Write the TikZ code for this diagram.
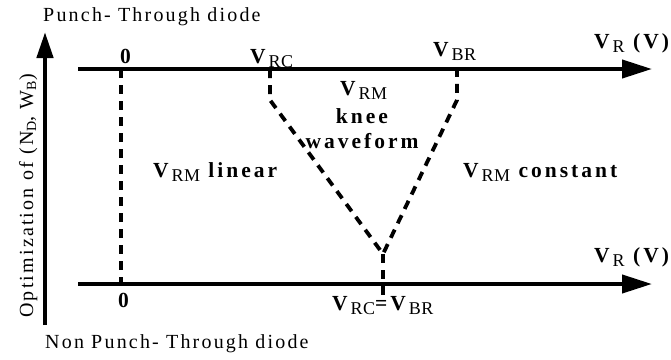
\documentclass[tikz,border=0pt]{standalone}
\usepackage{fontspec}
\setmainfont{Liberation Serif}
\usepackage{tikz}
\usetikzlibrary{arrows.meta, positioning, calc}

% V with a plain lowered subscript
\newcommand{\Vsub}[1]{\textbf{V}\raisebox{-4.5pt}{\fontsize{18}{18}\selectfont\mdseries\addfontfeature{LetterSpace=2}#1}}
\newcommand{\lsub}[1]{\raisebox{-3pt}{\fontsize{14}{14}\selectfont #1}}

\begin{document}
\begin{tikzpicture}[
    x=1pt, y=-1pt,
    axis/.style    = {line width=4pt, -{Triangle[length=30pt,width=18pt]}},
    yaxis/.style   = {line width=4.5pt, -{Triangle[length=26pt,width=16pt]}},
    guide/.style   = {line width=3.8pt, dash pattern=on 9pt off 7pt},
    lbl/.style     = {inner sep=0pt, anchor=base west,
                      font=\fontsize{21.5}{23}\selectfont\bfseries\addfontfeature{LetterSpace=14}},
    note/.style    = {inner sep=0pt, anchor=base west,
                      font=\fontsize{20}{22}\selectfont\addfontfeature{LetterSpace=11}}
]
\useasboundingbox (0,0) rectangle (671,359);

% Axes
\coordinate (yBot) at (45,325);
\coordinate (yTop) at (45,32);
\coordinate (topL) at (78,69);
\coordinate (topR) at (652,69);
\coordinate (botL) at (78,284);
\coordinate (botR) at (652,284);

\draw[yaxis] (yBot) -- (yTop);
\draw[axis] (topL) -- (topR);
\draw[axis] (botL) -- (botR);

% Guide lines (zero, knee)
\coordinate (zeroT) at (121,69);
\coordinate (zeroB) at (121,286);
\coordinate (rcT)   at (270,69);
\coordinate (rcK)   at (270,100);
\coordinate (brT)   at (457,69);
\coordinate (brK)   at (457,100);
\coordinate (apex)  at (383,254);
\coordinate (apexB) at (383,295);

\draw[guide] (zeroT) -- (zeroB);
\draw[guide] (rcT) -- (rcK) -- (apex) -- (brK) -- (brT);
\draw[guide] (apex) -- (apexB);

% Tick labels
\node[lbl] (z1)   at (120,63)  {0};
\node[lbl] (vrc)  at (250,63)  {\Vsub{RC}};
\node[lbl] (vbr)  at (433,56)  {\Vsub{BR}};
\node[lbl] (vr1)  at (594,48)  {\Vsub{R} (V)};
\node[lbl] (vr2)  at (594,262) {\Vsub{R} (V)};
\node[lbl] (z2)   at (118,307) {0};
\node[lbl] (veq)  at (332,310) {\Vsub{RC}=\Vsub{BR}};

% Regions
\node[lbl] (lin)  at (153,177) {\Vsub{RM} linear};
\node[lbl] (kn1)  at (340,95)  {\Vsub{RM}};
\node[lbl, anchor=base] (kn2) at (362,123) {knee};
\node[lbl, anchor=base] (kn3) at (362,148) {waveform};
\node[lbl] (cst)  at (463,177) {\Vsub{RM} constant};

% Diode types and optimisation axis
\node[note] (pt)  at (43,21)  {Punch- Through diode};
\node[note] (npt) at (45,348) {Non Punch- Through diode};
\node[note, rotate=90] (opt) at (33,318)
    {Optimization of (N\lsub{D}, W\lsub{B})};

\end{tikzpicture}
\end{document}
